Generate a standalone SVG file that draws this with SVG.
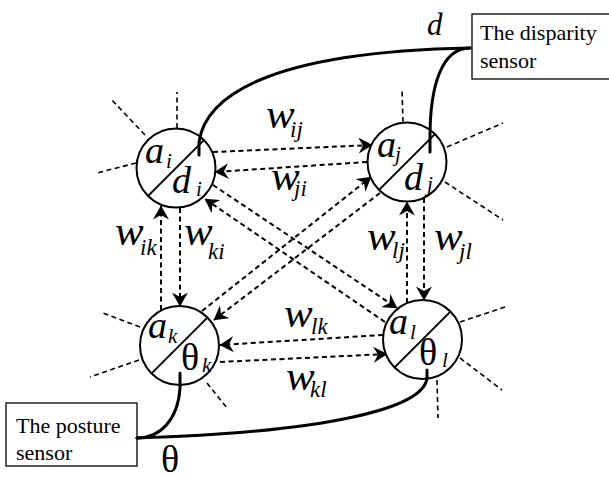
<svg xmlns="http://www.w3.org/2000/svg" width="609" height="477" viewBox="0 0 609 477">
<style>
.ring{fill:none;stroke:#000;stroke-width:2}
.diag{stroke:#000;stroke-width:2}
.ray{stroke:#000;stroke-width:1.6;stroke-dasharray:5 3.5;fill:none}
.w{stroke:#000;stroke-width:2;stroke-dasharray:5 3.5;fill:none;marker-end:url(#arr)}
.thick{stroke:#000;stroke-width:3;fill:none;stroke-linecap:round}
.box{fill:#fff;stroke:#000;stroke-width:1.3}
</style>
<defs>
<marker id="arr" markerUnits="userSpaceOnUse" viewBox="0 0 14 16" refX="13.5" refY="8" markerWidth="14" markerHeight="16" orient="auto">
<path d="M14,8 L0,0 L4.5,8 L0,16 z" fill="#000"/>
</marker>
</defs>

<g id="node-i">
<circle class="ring" cx="176" cy="168" r="39.5"/>
<line class="diag" x1="148.1" y1="195.9" x2="203.9" y2="140.1"/>
<line class="ray" x1="177" y1="128" x2="177" y2="92"/>
<line class="ray" x1="145" y1="135" x2="112" y2="100"/>
<line class="ray" x1="136" y1="163" x2="97" y2="173"/>
<text font-family="Liberation Serif" font-style="italic" font-size="38" x="145" y="163">a<tspan font-size="21" x="166" y="168">i</tspan></text>
<text font-family="Liberation Serif" font-style="italic" font-size="38" x="172" y="193">d<tspan font-size="21" x="196" y="196">i</tspan></text>
</g>

<g id="node-j">
<circle class="ring" cx="407" cy="162" r="39.5"/>
<line class="diag" x1="379.1" y1="189.9" x2="434.9" y2="134.1"/>
<line class="ray" x1="403" y1="122" x2="402" y2="90"/>
<line class="ray" x1="447" y1="147" x2="503" y2="123"/>
<line class="ray" x1="445" y1="182" x2="503" y2="220"/>
<text font-family="Liberation Serif" font-style="italic" font-size="38" x="377" y="157">a<tspan font-size="21" x="395" y="161">j</tspan></text>
<text font-family="Liberation Serif" font-style="italic" font-size="38" x="404" y="190">d<tspan font-size="21" x="427" y="191">j</tspan></text>
</g>

<g id="node-k">
<circle class="ring" cx="179.5" cy="345.5" r="39.5"/>
<line class="diag" x1="151.6" y1="373.4" x2="207.4" y2="317.6"/>
<line class="ray" x1="140" y1="327" x2="103" y2="313"/>
<line class="ray" x1="139" y1="360" x2="90" y2="377"/>
<line class="ray" x1="207" y1="383" x2="227" y2="408"/>
<text font-family="Liberation Serif" font-style="italic" font-size="38" x="148" y="338">a<tspan font-size="21" x="168" y="343">k</tspan></text>
<text font-family="Liberation Serif" font-size="38" x="181" y="370">θ<tspan font-style="italic" font-size="21" x="202" y="372">k</tspan></text>
</g>

<g id="node-l">
<circle class="ring" cx="422.5" cy="339.5" r="39.5"/>
<line class="diag" x1="394.6" y1="367.4" x2="450.4" y2="311.6"/>
<line class="ray" x1="460" y1="322" x2="505" y2="307"/>
<line class="ray" x1="460" y1="358" x2="502" y2="390"/>
<line class="ray" x1="437" y1="380" x2="438" y2="418"/>
<text font-family="Liberation Serif" font-style="italic" font-size="38" x="389" y="334">a<tspan font-size="21" x="410" y="339">l</tspan></text>
<text font-family="Liberation Serif" font-size="38" x="419" y="365">θ<tspan font-style="italic" font-size="21" x="442" y="367">l</tspan></text>
</g>

<g id="disparity-sensor">
<rect class="box" x="472" y="14" width="140" height="65"/>
<text font-family="Liberation Serif" font-size="22" x="480" y="40">The disparity</text>
<text font-family="Liberation Serif" font-size="22" x="480" y="68">sensor</text>
</g>

<g id="posture-sensor">
<rect class="box" x="6" y="403" width="131" height="63"/>
<text font-family="Liberation Serif" font-size="22" x="16" y="433">The posture</text>
<text font-family="Liberation Serif" font-size="22" x="16" y="460">sensor</text>
</g>

<g id="connectors">
<line class="w" x1="213" y1="152" x2="372" y2="145"/>
<line class="w" x1="367" y1="162" x2="215" y2="172"/>
<line class="w" x1="161" y1="310" x2="161" y2="206"/>
<line class="w" x1="180" y1="208" x2="180" y2="306"/>
<line class="w" x1="407" y1="303" x2="407" y2="202"/>
<line class="w" x1="424" y1="198" x2="424" y2="300"/>
<line class="w" x1="383" y1="335" x2="220" y2="345"/>
<line class="w" x1="220" y1="362" x2="387" y2="354"/>
<line class="w" x1="213" y1="185" x2="397" y2="308"/>
<line class="w" x1="385" y1="322" x2="205" y2="199"/>
<line class="w" x1="202" y1="311" x2="371" y2="177"/>
<line class="w" x1="380" y1="193" x2="214" y2="320"/>
<path class="thick" d="M199,155 L199,142 C205,100 260,52 470,48"/>
<path class="thick" d="M430,152 L430,137 C430,85 442,48 470,48"/>
<path class="thick" d="M180,373 L180,388 C178,420 160,438 137,438"/>
<path class="thick" d="M427,370 L427,378 C424,408 330,432 137,438"/>
</g>

<g id="labels">
<text font-family="Liberation Serif" font-style="italic" font-size="43" x="266" y="128">w<tspan font-size="23" x="290" y="137">ij</tspan></text>
<text font-family="Liberation Serif" font-style="italic" font-size="43" x="271" y="190">w<tspan font-size="23" x="294" y="196">ji</tspan></text>
<text font-family="Liberation Serif" font-style="italic" font-size="43" x="115" y="245">w<tspan font-size="23" x="140" y="255">ik</tspan></text>
<text font-family="Liberation Serif" font-style="italic" font-size="43" x="184" y="245">w<tspan font-size="23" x="208" y="259">ki</tspan></text>
<text font-family="Liberation Serif" font-style="italic" font-size="43" x="367" y="250">w<tspan font-size="23" x="392" y="258">lj</tspan></text>
<text font-family="Liberation Serif" font-style="italic" font-size="43" x="434" y="250">w<tspan font-size="23" x="459" y="259">jl</tspan></text>
<text font-family="Liberation Serif" font-style="italic" font-size="43" x="284" y="327">w<tspan font-size="23" x="311" y="334">lk</tspan></text>
<text font-family="Liberation Serif" font-style="italic" font-size="43" x="286" y="390">w<tspan font-size="23" x="310" y="397">kl</tspan></text>
<text font-family="Liberation Serif" font-style="italic" font-size="31" x="427" y="35">d</text>
<text font-family="Liberation Serif" font-size="38" x="161" y="472">θ</text>
</g>
</svg>
